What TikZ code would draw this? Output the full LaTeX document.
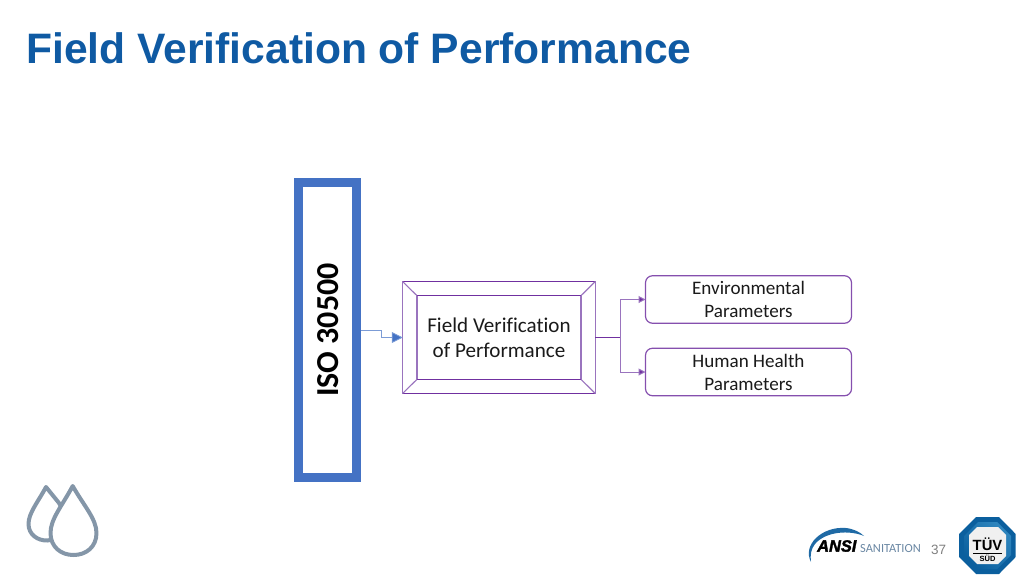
\documentclass[tikz,border=0pt]{standalone}
\usepackage{fontspec}
\setmainfont[Ligatures=CommonOff]{Carlito}
\newfontfamily\titlefont[Ligatures=CommonOff]{Liberation Sans}
\newfontfamily\ansifont[ItalicFont={Liberation Sans Bold Italic},ItalicFeatures={FakeBold=2}]{Liberation Sans}
\usetikzlibrary{arrows.meta}
\definecolor{titleblue}{HTML}{0F5AA3}
\definecolor{isoblue}{HTML}{4472C4}
\definecolor{violet1}{HTML}{7030A0}
\definecolor{violet2}{HTML}{9A74BE}
\definecolor{dropgray}{HTML}{8496A8}
\definecolor{tuvblue}{HTML}{0B5F9E}
\definecolor{tuvlight}{HTML}{2F86BE}
\definecolor{ansiblue}{HTML}{1F6AA5}
\definecolor{sanit}{HTML}{6A87A3}
\definecolor{bodytext}{HTML}{1A1A1A}
\tikzset{
  box/.style={draw=violet1,line width=1.1pt,inner sep=0pt,outer sep=0pt,align=center,text=bodytext},
  round box/.style={box,draw=violet1!85!white,line width=1.2pt,rounded corners=7pt,minimum width=206pt,minimum height=47.5pt,font=\fontsize{19.1}{23}\selectfont},
  link/.style={draw=violet2,line width=1pt,-{Triangle[length=7pt,width=7pt,fill=violet1]}},
  drop/.style={draw=dropgray,line width=4pt,line join=round,fill=white},
}
\begin{document}
\begin{tikzpicture}[x=1pt,y=-1pt]
\useasboundingbox (0,0) rectangle (1024,576);
\node[anchor=west,inner sep=0pt,text=titleblue,font=\titlefont\bfseries\fontsize{42.6}{46}\selectfont] (title) at (26,48) {Field Verification of Performance};
\node[draw=isoblue,line width=8.8pt,inner sep=0pt,outer sep=4.4pt,minimum width=58.4pt,minimum height=294.4pt] (iso) at (327.5,330) {};
\node[rotate=90,inner sep=0pt,text=black,font=\bfseries\fontsize{32}{36}\selectfont] (isotext) at (328,330) {ISO 30500};
\node[box,draw=violet2,minimum width=192.3pt,minimum height=111.6pt] (outer) at (498.9,337.5) {};
\node[box,draw=violet2,minimum width=164pt,minimum height=83.6pt,font=\fontsize{21.1}{25.5}\selectfont] (inner) at (499,337.5) {Field Verification\\of Performance};
\draw[violet1,line width=1.1pt] (outer.north west) -- (outer.north east) (outer.south west) -- (outer.south east) (inner.north west) -- (inner.north east) (inner.south west) -- (inner.south east);
\draw[violet2,line width=1.1pt] (outer.north west) -- (inner.north west) (outer.north east) -- (inner.north east) (outer.south west) -- (inner.south west) (outer.south east) -- (inner.south east);
\node[round box] (env) at (748.5,299.5) {Environmental\\Parameters};
\node[round box] (hum) at (748.5,372) {Human Health\\Parameters};
\coordinate (fork) at (620.5,337.5);
\draw[violet1,line width=1pt] (outer.east) -- (fork);
\draw[link] (fork) |- (env.west);
\draw[link] (fork) |- (hum.west);
\coordinate (step1) at (381.5,330);
\coordinate (step2) at (381.5,337.5);
\draw[draw=isoblue!70,line width=0.8pt,-{Triangle[length=11pt,width=11pt,fill=isoblue]}] (iso.east) -- (step1) -- (step2) -- (outer.west);
% droplets
\draw[drop] (46,487) .. controls (38,502) and (28.5,513) .. (28.5,524) .. controls (28.5,534) and (37,541) .. (48,540.5) .. controls (62,540) and (66,510) .. (59,503) -- cycle;
\draw[drop] (72.7,486) .. controls (62,506) and (50.5,519) .. (50.5,533) .. controls (50.5,547) and (61,555) .. (73.5,555) .. controls (86,555) and (96.5,547) .. (96.5,533) .. controls (96.5,519) and (84,506) .. (72.7,486) -- cycle;
% ANSI logo
\fill[ansiblue] (811,562) .. controls (802,545) and (822,526) .. (846,528) .. controls (854,529) and (860,532) .. (864,536) .. controls (850,530) and (826,531) .. (815,544) .. controls (811,549) and (810,555) .. (811,562) -- cycle;
\node[anchor=west,inner sep=0pt,font=\ansifont\itshape\fontsize{16.4}{18}\selectfont] (ansi) at (817,546) {ANSI};
\node[anchor=west,inner sep=0pt,text=sanit,font=\fontsize{12.4}{14}\selectfont] (sanitation) at (860,549) {SANITATION};
\node[anchor=west,inner sep=0pt,text=black!50,font=\titlefont\fontsize{13.5}{16}\selectfont] (page) at (931,549.5) {37};
% TUV logo
\fill[tuvblue] (976,517) -- (999,517) -- (1015.7,534) -- (1015.7,557) -- (999,574) -- (976,574) -- (959,557) -- (959,534) -- cycle;
\shade[left color=tuvlight,right color=tuvblue,shading angle=-45] (978,522) -- (997,522) -- (1011,536) -- (1011,555) -- (997,569) -- (978,569) -- (964,555) -- (964,536) -- cycle;
\fill[white!94!black] (977,527) -- (998,527) -- (1006,535) -- (1006,556) -- (998,564) -- (977,564) -- (969,556) -- (969,535) -- cycle;
\node[inner sep=0pt,font=\titlefont\bfseries\fontsize{14.8}{17}\selectfont] (tuv) at (987.5,544) {TÜV};
\draw[black,line width=0.8pt] (973,553) -- (1002,553);
\node[inner sep=0pt,font=\titlefont\bfseries\fontsize{7.5}{9}\selectfont] (sud) at (987.5,558) {SÜD};
\end{tikzpicture}
\end{document}
